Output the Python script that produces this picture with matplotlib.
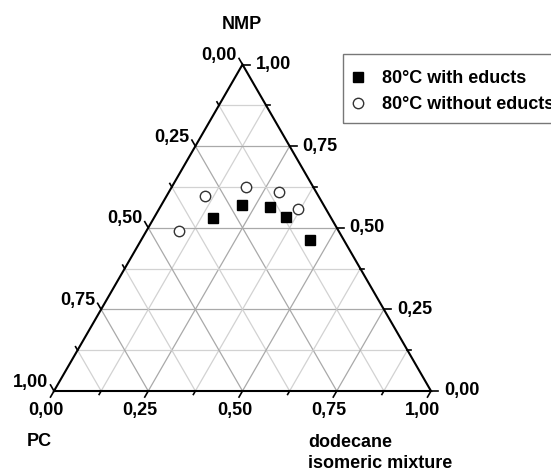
"""
Ternary diagram PC / NMP / dodecane isomeric mixture at 80 C
"""
import numpy as np
import matplotlib.pyplot as plt
from matplotlib.patches import Rectangle

plt.rcParams['font.family'] = ['Liberation Sans', 'DejaVu Sans']
plt.rcParams['font.weight'] = 'bold'

# mass fractions
pc_with = [0.313, 0.215, 0.145, 0.117, 0.090]
nmp_with = [0.531, 0.571, 0.564, 0.534, 0.463]
dod_with = [0.156, 0.214, 0.291, 0.349, 0.447]

pc_without = [0.300, 0.177, 0.097, 0.075, 0.422]
nmp_without = [0.597, 0.625, 0.610, 0.558, 0.491]
dod_without = [0.103, 0.198, 0.293, 0.367, 0.087]

tick_vals = [0.0, 0.25, 0.5, 0.75, 1.0]
tick_labels = ['0,00', '0,25', '0,50', '0,75', '1,00']
grid_step = 0.125

H = np.sqrt(3) / 2
PX = 377.0  # pixels per unit side
W_PX, H_PX = 551, 474


def tern(pc, nmp, dod):
    nmp = np.asarray(nmp)
    dod = np.asarray(dod)
    return dod + nmp / 2, nmp * H


fig = plt.figure(figsize=(5.51, 4.74), dpi=100)
ax = fig.add_axes([0, 0, 1, 1])
ax.set_xlim(-54 / PX, (W_PX - 54) / PX)
ax.set_ylim(-83 / PX, (H_PX - 83) / PX)
ax.axis('off')

# grid
for v in np.arange(grid_step, 1, grid_step):
    major = abs(v / 0.25 - round(v / 0.25)) < 1e-6
    col = '#a9a9a9' if major else '#d2d2d2'
    # constant NMP
    ax.plot([v / 2, 1 - v / 2], [v * H, v * H], color=col, lw=0.9, zorder=1)
    # constant dodecane
    ax.plot([v, v + (1 - v) / 2], [0, (1 - v) * H], color=col, lw=0.9, zorder=1)
    # constant PC
    ax.plot([1 - v, (1 - v) / 2], [0, (1 - v) * H], color=col, lw=0.9, zorder=1)

# triangle
ax.plot([0, 1, 0.5, 0], [0, 0, H, 0], color='black', lw=1.5, zorder=2,
        solid_joinstyle='miter')

# ticks and labels
for v in np.arange(0, 1 + 1e-9, grid_step):
    major = abs(v / 0.25 - round(v / 0.25)) < 1e-6
    ln = (7 if major else 4) / PX
    # bottom: dodecane
    bx, by = v, 0
    ax.plot([bx, bx - 0.5 * ln], [by, by - H * ln], color='black', lw=1.2)
    # right: NMP
    rx, ry = 1 - v / 2, v * H
    ax.plot([rx, rx + ln], [ry, ry], color='black', lw=1.2)
    # left: PC
    lx, ly = (1 - v) / 2, (1 - v) * H
    ax.plot([lx, lx - 0.5 * ln], [ly, ly + H * ln], color='black', lw=1.2)

for v, lab in zip(tick_vals, tick_labels):
    ax.annotate(lab, (v, 0), xytext=(-8, -19), textcoords='offset pixels',
                ha='center', va='center', fontsize=13, fontweight='bold')
    ax.annotate(lab, (1 - v / 2, v * H), xytext=(13, 0), textcoords='offset pixels',
                ha='left', va='center', fontsize=13, fontweight='bold')
    ax.annotate(lab, ((1 - v) / 2, (1 - v) * H), xytext=(-6, 9),
                textcoords='offset pixels', ha='right', va='center',
                fontsize=13, fontweight='bold')

# component names
ax.annotate('NMP', (0.5, H), xytext=(-1, 40), textcoords='offset pixels',
            ha='center', va='center', fontsize=13, fontweight='bold')
ax.annotate('PC', (0, 0), xytext=(-27, -51), textcoords='offset pixels',
            ha='left', va='center', fontsize=13, fontweight='bold')
ax.annotate('dodecane\nisomeric mixture', (1, 0), xytext=(-123, -62),
            textcoords='offset pixels', ha='left', va='center',
            fontsize=13, fontweight='bold', linespacing=1.25)

# data
x1, y1 = tern(pc_with, nmp_with, dod_with)
x2, y2 = tern(pc_without, nmp_without, dod_without)
ax.plot(x1, y1, 's', color='black', ms=6.7, ls='none', zorder=4,
        label='80°C with educts')
ax.plot(x2, y2, 'o', mfc='white', mec='#333333', mew=1.0, ms=7.5, ls='none',
        zorder=4, label='80°C without educts')

# legend (frame drawn separately, runs off the right edge like the original)
leg = ax.legend(loc='upper left', bbox_to_anchor=(343 / W_PX, 1 - 60 / H_PX),
                bbox_transform=fig.transFigure, frameon=False,
                borderaxespad=0, borderpad=0.55, handlelength=0.6,
                handletextpad=1.0, labelspacing=0.5,
                prop={'size': 13, 'weight': 'bold'})
fig.patches.append(Rectangle((343 / W_PX, 1 - 123 / H_PX), 230 / W_PX, 69 / H_PX,
                             transform=fig.transFigure, fill=False,
                             edgecolor='#777777', lw=1.0))

plt.savefig('out.png', dpi=100)
